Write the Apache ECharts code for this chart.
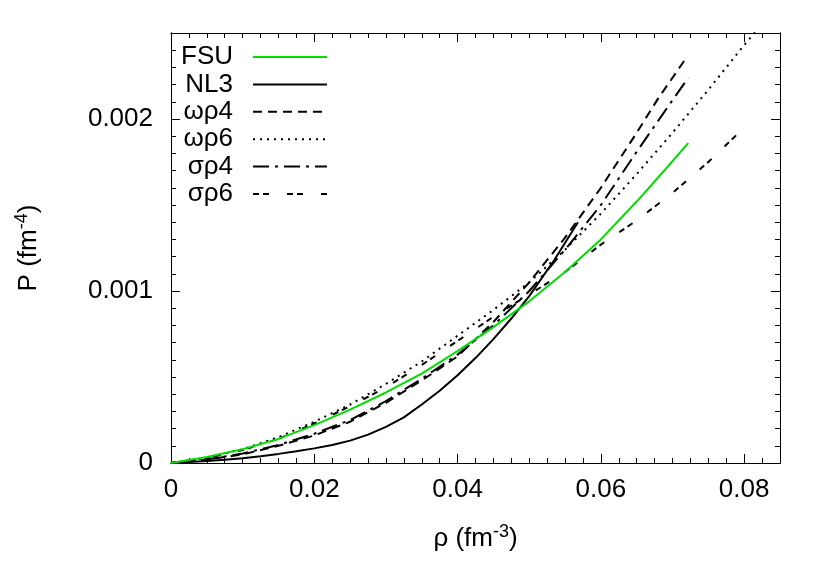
<!DOCTYPE html>
<html><head><meta charset="utf-8">
<script src="https://cdn.jsdelivr.net/npm/echarts@6/dist/echarts.min.js"></script>
<style>html,body{margin:0;padding:0;background:#fff}#c{width:830px;height:581px}</style>
</head><body><div id="c"></div>
<script>
// ---- data ----
const fsuX = [0, 0.005, 0.01, 0.015, 0.02, 0.025, 0.03, 0.035, 0.04, 0.045, 0.05, 0.055, 0.06, 0.065, 0.068, 0.0722];
const fsuY = [0, 0.000035, 0.00008, 0.00014, 0.00022, 0.00031, 0.00041, 0.00052, 0.00065, 0.00079, 0.00094, 0.00111, 0.0013, 0.00152, 0.00166, 0.00186];
const nl3X = [0, 0.0025, 0.005, 0.0075, 0.01, 0.0125, 0.015, 0.0175, 0.02, 0.0225, 0.025, 0.0275, 0.03, 0.0325, 0.035, 0.0375, 0.04, 0.0425, 0.045, 0.0475, 0.05, 0.0535, 0.0568];
const nl3Y = [0, 0.000006, 0.000012, 0.000019, 0.000027, 0.000039, 0.000053, 0.000068, 0.000085, 0.000105, 0.00013, 0.000165, 0.00021, 0.000265, 0.00034, 0.00042, 0.00051, 0.00061, 0.00072, 0.00084, 0.00097, 0.00118, 0.0014];
const wr4X = [0, 0.005, 0.01, 0.015, 0.02, 0.025, 0.03, 0.035, 0.04, 0.045, 0.05, 0.055, 0.06, 0.065, 0.068, 0.072];
const wr4Y = [0, 0.00002, 0.00005, 0.0001, 0.00016, 0.00024, 0.00035, 0.00048, 0.00062, 0.00082, 0.00105, 0.00131, 0.0016, 0.00192, 0.00212, 0.00236];
const wr6X = [0, 0.005, 0.01, 0.015, 0.02, 0.025, 0.03, 0.035, 0.04, 0.045, 0.05, 0.055, 0.06, 0.065, 0.07, 0.075, 0.08, 0.0835];
const wr6Y = [0, 0.00003, 0.00008, 0.00015, 0.00024, 0.00034, 0.00046, 0.00059, 0.00074, 0.00089, 0.00105, 0.00124, 0.00145, 0.00168, 0.00192, 0.00217, 0.00243, 0.0026];
const sr4X = [0, 0.005, 0.01, 0.015, 0.02, 0.025, 0.03, 0.035, 0.04, 0.045, 0.05, 0.055, 0.06, 0.065, 0.0695, 0.0722];
const sr4Y = [0, 0.00002, 0.000055, 0.000105, 0.00017, 0.00025, 0.00036, 0.00049, 0.00063, 0.0008, 0.001, 0.00124, 0.0015, 0.00181, 0.00208, 0.00224];
const sr6X = [0, 0.005, 0.01, 0.015, 0.02, 0.025, 0.03, 0.035, 0.04, 0.045, 0.05, 0.055, 0.06, 0.065, 0.07, 0.075, 0.08];
const sr6Y = [0, 0.00003, 0.000075, 0.00014, 0.00023, 0.00033, 0.00044, 0.00057, 0.00071, 0.00085, 0.00098, 0.00111, 0.00127, 0.00141, 0.00157, 0.00175, 0.00195];
const seriesNames = ['FSU', 'NL3', 'ωρ4', 'ωρ6', 'σρ4', 'σρ6'];
const xTickLabels = ['0', '0.02', '0.04', '0.06', '0.08'];
const yTickLabels = ['0', '0.001', '0.002'];

// ---- styles ----
const FONT = "'Liberation Sans', Arial, Helvetica, sans-serif";
const seriesStyles = [
  { color: '#00dd00', type: 'solid' },
  { color: '#000000', type: 'solid' },
  { color: '#000000', type: [9, 6] },
  { color: '#000000', type: [2, 5] },
  { color: '#000000', type: [16, 6, 3, 6] },
  { color: '#000000', type: [6, 4, 6, 18] }
];
const xs = [fsuX, nl3X, wr4X, wr6X, sr4X, sr6X];
const ys = [fsuY, nl3Y, wr4Y, wr6Y, sr4Y, sr6Y];

const XMAX = 0.085, YMAX = 0.0025;
function xLab(v) { const s = v === 0 ? '0' : v.toFixed(2); return xTickLabels.includes(s) ? s : ''; }
function yLab(v) { const s = v === 0 ? '0' : v.toFixed(3); return yTickLabels.includes(s) ? s : ''; }

const lineCol = '#000';
function xa(pos, interval, len, labels, name) {
  return {
    type: 'value', position: pos, min: 0, max: XMAX, interval: interval,
    axisLine: { show: true, onZero: false, lineStyle: { color: lineCol, width: 1 } },
    axisTick: { show: true, inside: true, length: len, lineStyle: { color: lineCol, width: 1 } },
    axisLabel: labels ? { show: true, formatter: xLab, showMaxLabel: false, fontSize: 26, fontFamily: FONT, color: '#000', margin: 14 } : { show: false },
    splitLine: { show: false },
    name: name || '', nameLocation: 'middle', nameGap: 60,
    nameTextStyle: { fontSize: 26, fontFamily: FONT, color: '#000',
      rich: { s: { fontSize: 18, fontFamily: FONT, color: '#000', verticalAlign: 'top', padding: [0, 0, 14, 0] } } }
  };
}
function ya(pos, interval, len, labels, name) {
  return {
    type: 'value', position: pos, min: 0, max: YMAX, interval: interval,
    axisLine: { show: true, onZero: false, lineStyle: { color: lineCol, width: 1 } },
    axisTick: { show: true, inside: true, length: len, lineStyle: { color: lineCol, width: 1 } },
    axisLabel: labels ? { show: true, formatter: yLab, showMaxLabel: false, fontSize: 26, fontFamily: FONT, color: '#000', margin: 18 } : { show: false },
    splitLine: { show: false },
    name: name || '', nameLocation: 'middle', nameGap: 126, nameRotate: 90,
    nameTextStyle: { fontSize: 26, fontFamily: FONT, color: '#000',
      rich: { s: { fontSize: 18, fontFamily: FONT, color: '#000', padding: [0, 0, 14, 0] } } }
  };
}

const series = seriesNames.map((n, i) => ({
  name: n, type: 'line', xAxisIndex: 0, yAxisIndex: 0,
  data: xs[i].map((x, j) => [x, ys[i][j]]),
  symbol: 'none', showSymbol: false, smooth: false, clip: true,
  lineStyle: { color: seriesStyles[i].color, width: 2, type: seriesStyles[i].type },
  itemStyle: { color: seriesStyles[i].color },
  z: 10 - i
}));

const chart = echarts.init(document.getElementById('c'), null, { renderer: 'canvas' });
chart.setOption({
  animation: false,
  backgroundColor: '#fff',
  grid: { left: 171, right: 50, top: 33, bottom: 118, containLabel: false },
  xAxis: [
    xa('bottom', 0.02, 9, true, 'ρ (fm{s|-3})'),
    xa('bottom', 0.0025, 5, false),
    xa('top', 0.02, 9, false),
    xa('top', 0.0025, 5, false)
  ],
  yAxis: [
    ya('left', 0.001, 9, true, 'P (fm{s|-4})'),
    ya('left', 0.0001, 5, false),
    ya('right', 0.001, 9, false),
    ya('right', 0.0001, 5, false)
  ],
  legend: {
    data: seriesNames, orient: 'vertical', left: 176, top: 39, align: 'right',
    itemWidth: 74, itemHeight: 14, itemGap: 1.4,
    itemStyle: { opacity: 0 },
    textStyle: { fontSize: 26, fontFamily: FONT, color: '#000', width: 62, align: 'right', padding: [0, 15, 0, 0] },
    backgroundColor: 'transparent', selectedMode: false
  },
  series: series
});
</script></body></html>
